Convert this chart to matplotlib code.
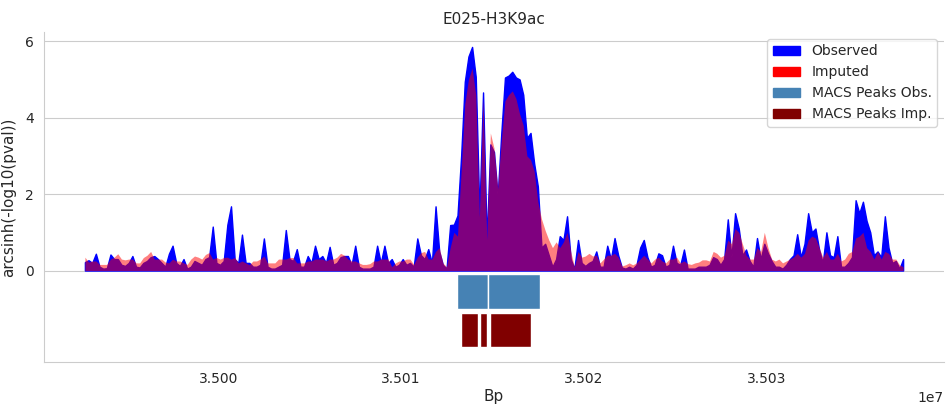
import matplotlib
matplotlib.use('Agg')
import matplotlib.pyplot as plt
from matplotlib.patches import Patch
import seaborn as sns
import numpy as np

# Signal track, 200 bp bins starting at bin_start
bin_start = 34992700
bin_size = 200

observed = [
    0.22, 0.27, 0.20, 0.44, 0.10, 0.05, 0.06, 0.42, 0.30, 0.30,
    0.15, 0.12, 0.20, 0.38, 0.10, 0.08, 0.20, 0.25, 0.35, 0.38,
    0.30, 0.20, 0.10, 0.44, 0.65, 0.20, 0.12, 0.30, 0.05, 0.10,
    0.25, 0.20, 0.15, 0.30, 0.35, 1.15, 0.20, 0.15, 0.25, 1.20,
    1.68, 0.30, 0.20, 0.94, 0.20, 0.20, 0.10, 0.10, 0.15, 0.84,
    0.10, 0.05, 0.05, 0.10, 0.15, 1.06, 0.30, 0.25, 0.56, 0.10,
    0.10, 0.38, 0.20, 0.65, 0.30, 0.38, 0.20, 0.62, 0.15, 0.20,
    0.35, 0.38, 0.38, 0.15, 0.65, 0.10, 0.05, 0.05, 0.05, 0.10,
    0.65, 0.20, 0.65, 0.20, 0.30, 0.10, 0.15, 0.30, 0.15, 0.20,
    0.10, 0.84, 0.40, 0.30, 0.56, 0.20, 1.68, 0.50, 0.15, 0.05,
    1.19, 1.20, 1.44, 3.00, 4.94, 5.60, 5.85, 5.07, 1.50, 4.66,
    0.80, 3.30, 3.10, 1.96, 3.60, 5.05, 5.10, 5.20, 5.05, 5.00,
    4.60, 3.47, 3.60, 2.80, 2.20, 0.60, 0.70, 0.40, 0.10, 0.30,
    0.90, 0.80, 1.42, 0.30, 0.05, 0.80, 0.20, 0.12, 0.20, 0.25,
    0.50, 0.10, 0.10, 0.65, 0.30, 0.85, 0.40, 0.08, 0.05, 0.10,
    0.05, 0.15, 0.60, 0.80, 0.35, 0.10, 0.15, 0.45, 0.40, 0.10,
    0.15, 0.65, 0.20, 0.15, 0.55, 0.05, 0.05, 0.05, 0.10, 0.10,
    0.10, 0.15, 0.35, 0.30, 0.15, 0.30, 1.34, 0.35, 1.50, 1.10,
    0.40, 0.55, 0.25, 0.10, 0.85, 0.30, 0.70, 0.45, 0.25, 0.10,
    0.10, 0.05, 0.15, 0.30, 0.40, 0.95, 0.35, 0.70, 1.50, 1.00,
    1.10, 0.55, 0.20, 1.00, 0.40, 0.35, 0.90, 0.10, 0.10, 0.20,
    0.35, 1.84, 1.50, 1.80, 1.30, 1.00, 0.40, 0.50, 0.35, 1.42,
    0.60, 0.20, 0.25, 0.05, 0.30,
]

imputed = [
    0.35, 0.22, 0.25, 0.25, 0.16, 0.16, 0.16, 0.30, 0.35, 0.44,
    0.30, 0.28, 0.30, 0.30, 0.20, 0.20, 0.34, 0.40, 0.50, 0.30,
    0.30, 0.30, 0.22, 0.20, 0.30, 0.25, 0.25, 0.20, 0.16, 0.30,
    0.38, 0.35, 0.30, 0.42, 0.47, 0.30, 0.34, 0.30, 0.34, 0.35,
    0.30, 0.34, 0.20, 0.25, 0.20, 0.15, 0.25, 0.25, 0.30, 0.38,
    0.20, 0.20, 0.20, 0.30, 0.30, 0.30, 0.34, 0.34, 0.20, 0.20,
    0.20, 0.25, 0.25, 0.30, 0.30, 0.30, 0.25, 0.30, 0.30, 0.35,
    0.45, 0.40, 0.30, 0.25, 0.25, 0.20, 0.16, 0.16, 0.18, 0.25,
    0.25, 0.30, 0.30, 0.30, 0.10, 0.20, 0.25, 0.25, 0.30, 0.30,
    0.16, 0.35, 0.47, 0.50, 0.30, 0.30, 0.50, 0.60, 0.20, 0.10,
    0.60, 1.00, 0.90, 2.60, 4.36, 5.00, 5.30, 4.60, 1.40, 4.50,
    0.80, 3.60, 3.20, 2.14, 3.40, 4.44, 4.60, 4.70, 4.50, 4.10,
    3.80, 3.00, 2.90, 2.60, 1.80, 1.35, 1.05, 0.80, 0.60, 0.75,
    0.60, 0.75, 1.00, 0.50, 0.10, 0.50, 0.35, 0.38, 0.45, 0.38,
    0.40, 0.20, 0.30, 0.40, 0.40, 0.45, 0.35, 0.12, 0.15, 0.20,
    0.15, 0.20, 0.30, 0.40, 0.30, 0.20, 0.30, 0.35, 0.25, 0.20,
    0.30, 0.30, 0.35, 0.20, 0.25, 0.18, 0.16, 0.20, 0.22, 0.28,
    0.28, 0.25, 0.50, 0.45, 0.35, 0.40, 0.80, 0.70, 1.10, 1.00,
    0.70, 0.40, 0.30, 0.30, 0.60, 0.50, 1.00, 0.60, 0.30, 0.25,
    0.30, 0.20, 0.25, 0.30, 0.35, 0.45, 0.35, 0.45, 0.80, 0.90,
    0.85, 0.60, 0.35, 0.50, 0.30, 0.30, 0.45, 0.25, 0.30, 0.45,
    0.50, 0.85, 0.90, 1.00, 0.60, 0.50, 0.30, 0.50, 0.30, 0.50,
    0.45, 0.30, 0.30, 0.15, 0.10,
]

# MACS peak calls (start, end) in bp
peaks_obs = [(35013050, 35014780), (35014780, 35017620)]
peaks_imp = [(35013270, 35014240), (35014330, 35014700), (35014890, 35017120)]

sns.set_style('whitegrid')

fig, ax = plt.subplots(figsize=(9.48, 4.04), dpi=100)
fig.subplots_adjust(left=0.0464, right=0.9958, top=0.921, bottom=0.104)

x = bin_start + bin_size * np.arange(len(observed))
ax.fill_between(x, observed, color='blue')
ax.fill_between(x, imputed, color='red', alpha=0.5, linewidth=0)

for start, end in peaks_obs:
    ax.bar(start, -0.9, width=end - start, bottom=-0.1, align='edge',
           color='steelblue', edgecolor='white', linewidth=1)
for start, end in peaks_imp:
    ax.bar(start, -0.9, width=end - start, bottom=-1.1, align='edge',
           color='maroon', edgecolor='white', linewidth=1)

ax.set_yticks([0, 2, 4, 6])
ax.xaxis.grid(False)
ax.ticklabel_format(axis='x', style='sci', scilimits=(0, 0), useOffset=False)
ax.tick_params(labelsize=10, pad=4)
ax.xaxis.get_offset_text().set_fontsize(10)
ax.set_xlabel('Bp', fontsize=11, labelpad=2)
ax.set_ylabel('arcsinh(-log10(pval))', fontsize=11, labelpad=6)
ax.set_title('E025-H3K9ac', fontsize=11)
sns.despine(ax=ax)

handles = [Patch(color='blue', label='Observed'),
           Patch(color='red', label='Imputed'),
           Patch(color='steelblue', label='MACS Peaks Obs.'),
           Patch(color='maroon', label='MACS Peaks Imp.')]
ax.legend(handles=handles, loc='upper right', fontsize=10)

fig.savefig('out.png', dpi=100)
